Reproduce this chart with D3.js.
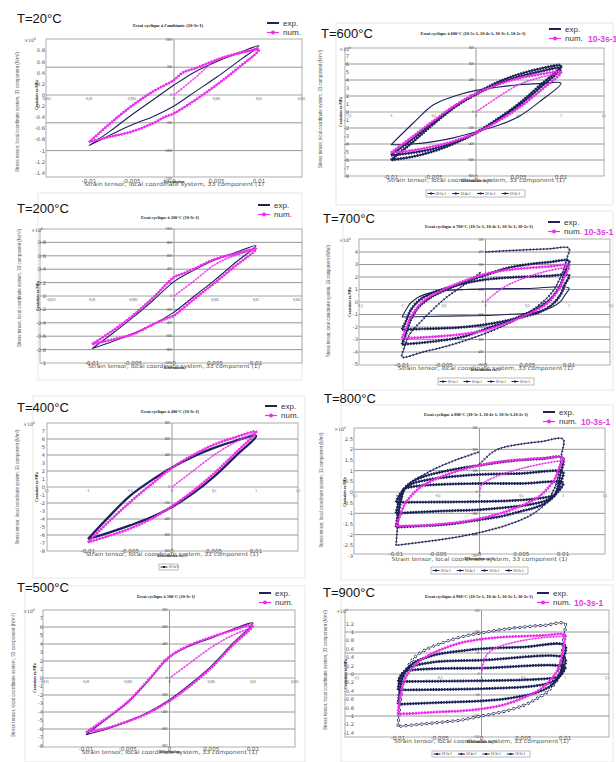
<!DOCTYPE html>
<html><head><meta charset="utf-8">
<script src="https://cdn.jsdelivr.net/npm/d3@7"></script>
<style>body{margin:0;background:#fff}svg{display:block}</style>
</head><body>
<svg id="c" width="616" height="762"></svg>
<script>
// ---------------- DATA (strain [-], stress [MPa]) ----------------
const outerX = [-0.01,-0.005,0,0.005,0.01];
const innerXT = [-0.015,-0.01,-0.005,0,0.005,0.01,0.015];
const outer20 = [0.8,0.6,0.4,0.2,0,-0.2,-0.4,-0.6,-0.8,-1,-1.2,-1.4];
const outer200 = [0.8,0.6,0.4,0.2,0,-0.2,-0.4,-0.6,-0.8,-1];
const outer400 = [7,6,5,4,3,2,1,0,-1,-2,-3,-4,-5,-6,-7,-8];
const outer700 = [4,3,2,1,0,-1,-2,-3,-4,-5];
const outer800 = [2.5,2,1.5,1,0.5,0,-0.5,-1,-1.5,-2,-2.5,-3];
const outer900 = [1.2,1,0.8,0.6,0.4,0.2,0,-0.2,-0.4,-0.6,-0.8,-1,-1.2,-1.4];
const inner20 = [1000,500,0,-500,-1000,-1500];
const inner200 = [1000,800,600,400,200,0,-200,-400,-600,-800,-1000];
const inner400 = [800,600,400,200,0,-200,-400,-600,-800];
const inner700 = [500,400,300,200,100,0,-100,-200,-300,-400,-500];
const inner800 = [300,200,100,0,-100,-200,-300];
const inner900 = [150,100,50,0,-50,-100,-150];
const rates = ["10-5s-1","10-4s-1","10-3s-1","10-2s-1"];

const exp20 = [[-0.01,-910],[-0.0075,-650],[-0.005,-360],[-0.0025,-90],[0,180],[0.0025,420],[0.005,600],[0.0075,750],[0.01,887],[0.0075,600],[0.005,318],[0.0025,60],[0,-198],[-0.0025,-390],[-0.005,-540],[-0.0075,-720],[-0.01,-910]];
const num20 = [[-0.01,-850],[-0.0075,-510],[-0.005,-200],[-0.0025,60],[0,270],[0.001,400],[0.0025,480],[0.005,630],[0.0075,750],[0.01,820],[0.0075,480],[0.005,180],[0.0025,-90],[0,-330],[-0.001,-390],[-0.0025,-510],[-0.005,-660],[-0.0075,-750],[-0.01,-845]];
const ini20 = [[0,0],[0.0025,310],[0.005,630],[0.0075,740],[0.01,815]];

const exp200 = [[-0.01,-785],[-0.0075,-560],[-0.005,-320],[-0.0025,-60],[0,215],[0.0025,390],[0.005,540],[0.0075,650],[0.01,750],[0.0075,500],[0.005,240],[0.0025,0],[0,-240],[-0.0025,-420],[-0.005,-560],[-0.0075,-680],[-0.01,-785]];
const num200 = [[-0.01,-720],[-0.0075,-520],[-0.005,-290],[-0.0025,-20],[0,280],[0.001,330],[0.0025,410],[0.005,550],[0.0075,630],[0.01,700],[0.0075,450],[0.005,200],[0.0025,-40],[0,-290],[-0.001,-340],[-0.0025,-420],[-0.005,-570],[-0.0075,-650],[-0.01,-720]];
const ini200 = [[0,0],[0.0025,230],[0.005,470],[0.0075,610],[0.01,690]];

const exp400 = [[-0.01,-650],[-0.0075,-370],[-0.005,-110],[-0.0025,80],[0,245],[0.0025,380],[0.005,490],[0.0075,575],[0.01,640],[0.0075,380],[0.005,130],[0.0025,-80],[0,-250],[-0.0025,-380],[-0.005,-480],[-0.0075,-570],[-0.01,-650]];
const num400 = [[-0.01,-690],[-0.0075,-430],[-0.005,-190],[-0.0025,30],[0,240],[0.0025,400],[0.005,530],[0.0075,620],[0.01,690],[0.0075,420],[0.005,170],[0.0025,-50],[0,-240],[-0.0025,-400],[-0.005,-520],[-0.0075,-610],[-0.01,-690]];
const ini400 = [[0,0],[0.0025,200],[0.005,400],[0.0075,560],[0.01,680]];

const exp500 = [[-0.01,-667],[-0.0075,-480],[-0.005,-290],[-0.0025,-30],[0,247],[0.0025,380],[0.005,470],[0.0075,570],[0.01,647],[0.0075,400],[0.005,140],[0.0025,-70],[0,-255],[-0.0025,-400],[-0.005,-510],[-0.0075,-600],[-0.01,-667]];
const num500 = [[-0.01,-640],[-0.0075,-470],[-0.005,-280],[-0.0025,-20],[0,250],[0.0025,390],[0.005,480],[0.0075,560],[0.01,620],[0.0075,380],[0.005,120],[0.0025,-90],[0,-270],[-0.0025,-410],[-0.005,-510],[-0.0075,-590],[-0.01,-640]];
const ini500 = [[0,0],[0.0025,180],[0.005,360],[0.0075,500],[0.01,600]];

const exp600a = [[-0.01,-600],[-0.0075,-380],[-0.005,-150],[-0.0025,60],[0,230],[0.0025,370],[0.005,470],[0.0075,540],[0.01,580],[0.0075,330],[0.005,100],[0.0025,-90],[0,-260],[-0.0025,-390],[-0.005,-490],[-0.0075,-560],[-0.01,-600]];
const exp600b = [[-0.01,-540],[-0.0075,-340],[-0.005,-130],[-0.0025,70],[0,220],[0.0025,350],[0.005,440],[0.0075,505],[0.01,550],[0.0075,300],[0.005,80],[0.0025,-100],[0,-260],[-0.0025,-380],[-0.005,-460],[-0.0075,-510],[-0.01,-540]];
const exp600c = [[-0.01,-410],[-0.0075,-150],[-0.005,90],[-0.0025,200],[0,270],[0.0025,310],[0.005,340],[0.0075,355],[0.01,360],[0.0075,130],[0.005,-60],[0.0025,-170],[0,-250],[-0.0025,-320],[-0.005,-370],[-0.0075,-400],[-0.01,-410]];
const num600 = [[-0.01,-510],[-0.0075,-310],[-0.005,-110],[-0.0025,80],[0,230],[0.0025,340],[0.005,420],[0.0075,470],[0.01,500],[0.0075,260],[0.005,50],[0.0025,-120],[0,-260],[-0.0025,-360],[-0.005,-430],[-0.0075,-480],[-0.01,-510]];
const ini600 = [[0,0],[0.0025,180],[0.005,340],[0.0075,430],[0.01,490]];

const exp700a = [[0,400],[0.0025,410],[0.005,418],[0.0075,425],[0.01,430],[0.0098,360],[0.0095,290],[0.009,200],[0.008,80],[0.0065,-20],[0.005,-90],[0.0025,-180],[0,-250],[-0.0025,-310],[-0.005,-360],[-0.0075,-400],[-0.01,-440],[-0.0098,-380],[-0.0095,-320],[-0.009,-250],[-0.0075,-140],[-0.005,20],[-0.0025,140],[-0.0005,240]];
const exp700b = [[-0.01,-340],[-0.0095,-250],[-0.009,-150],[-0.008,-40],[-0.0065,40],[-0.005,90],[-0.0025,160],[0,215],[0.0025,270],[0.005,300],[0.0075,318],[0.01,328],[0.0095,240],[0.009,140],[0.008,40],[0.0065,-40],[0.005,-90],[0.0025,-160],[0,-215],[-0.0025,-275],[-0.005,-305],[-0.0075,-325],[-0.01,-340]];
const exp700c = [[-0.01,-220],[-0.0095,-150],[-0.009,-70],[-0.008,10],[-0.0065,70],[-0.005,105],[-0.0025,150],[0,180],[0.0025,195],[0.005,203],[0.0075,208],[0.01,212],[0.0095,140],[0.009,60],[0.008,-20],[0.0065,-80],[0.005,-110],[0.0025,-150],[0,-180],[-0.0025,-200],[-0.005,-210],[-0.0075,-215],[-0.01,-220]];
const exp700d = [[-0.01,-120],[-0.0095,-60],[-0.009,-10],[-0.008,40],[-0.0065,75],[-0.005,90],[-0.0025,100],[0,105],[0.005,108],[0.01,112],[0.0095,55],[0.009,5],[0.008,-40],[0.0065,-75],[0.005,-90],[0.0025,-100],[0,-108],[-0.005,-113],[-0.01,-120]];
const num700 = [[-0.01,-290],[-0.0095,-210],[-0.009,-130],[-0.008,-30],[-0.007,30],[-0.005,100],[-0.0025,170],[0,225],[0.0025,255],[0.005,272],[0.0075,283],[0.01,290],[0.0095,210],[0.009,130],[0.008,30],[0.007,-30],[0.005,-100],[0.0025,-170],[0,-225],[-0.0025,-255],[-0.005,-272],[-0.0075,-283],[-0.01,-290]];
const ini700 = [[0,0],[0.001,60],[0.0025,130],[0.005,200],[0.0075,250],[0.01,280]];

const exp800a = [[-0.01,-250],[-0.0098,-160],[-0.0095,-60],[-0.009,10],[-0.008,50],[-0.0065,85],[-0.005,115],[-0.0025,155],[0,188],null,[0,130],[0.0005,150],[0.0015,185],[0.0025,205],[0.005,225],[0.0075,237],[0.01,248],[0.0098,170],[0.0095,90],[0.009,20],[0.008,-50],[0.0065,-100],[0.005,-130],[0.0025,-165],[0,-190],[-0.0025,-210],[-0.005,-225],[-0.0075,-238],[-0.01,-250]];
const exp800b = [[-0.01,-165],[-0.0097,-90],[-0.0093,-20],[-0.009,15],[-0.008,50],[-0.0065,75],[-0.005,90],[-0.0025,110],[0,125],[0.0025,140],[0.005,150],[0.0075,156],[0.01,160],[0.0097,85],[0.0093,15],[0.009,-15],[0.008,-50],[0.0065,-75],[0.005,-90],[0.0025,-115],[0,-130],[-0.0025,-145],[-0.005,-155],[-0.0075,-160],[-0.01,-165]];
const exp800c = [[-0.01,-100],[-0.0097,-50],[-0.0094,-10],[-0.009,15],[-0.008,40],[-0.0065,55],[-0.005,65],[-0.0025,75],[0,82],[0.005,87],[0.01,92],[0.0097,45],[0.0094,5],[0.009,-15],[0.008,-40],[0.0065,-55],[0.005,-65],[0.0025,-75],[0,-83],[-0.005,-90],[-0.01,-100]];
const exp800d = [[-0.01,-48],[-0.0096,-15],[-0.0092,5],[-0.009,15],[-0.008,25],[-0.005,35],[0,40],[0.005,40],[0.01,42],[0.0096,10],[0.0092,-5],[0.009,-15],[0.008,-25],[0.005,-38],[0,-45],[-0.005,-47],[-0.01,-48]];
const num800 = [[-0.01,-160],[-0.0095,-110],[-0.009,-60],[-0.008,-10],[-0.007,25],[-0.005,65],[-0.0025,100],[0,125],[0.0025,142],[0.005,152],[0.0075,158],[0.01,160],[0.0095,110],[0.009,60],[0.008,10],[0.007,-25],[0.005,-65],[0.0025,-100],[0,-125],[-0.0025,-142],[-0.005,-152],[-0.0075,-158],[-0.01,-160]];
const ini800 = [[0,0],[0.0003,35],[0.001,55],[0.0025,80],[0.005,110],[0.0075,132],[0.01,148]];

const exp900a = [[-0.01,-125],[-0.0099,-100],[-0.0097,-60],[-0.0094,-20],[-0.009,10],[-0.008,40],[-0.0065,60],[-0.005,72],[-0.0025,88],[0,98],[0.0025,106],[0.005,112],[0.0075,116],[0.01,120],[0.0099,95],[0.0097,55],[0.0094,15],[0.009,-15],[0.008,-40],[0.0065,-60],[0.005,-75],[0.0025,-90],[0,-100],[-0.0025,-110],[-0.005,-115],[-0.0075,-120],[-0.01,-125]];
const exp900b = [[-0.01,-72],[-0.0098,-40],[-0.0095,-10],[-0.009,10],[-0.008,28],[-0.0065,40],[-0.005,48],[-0.0025,55],[0,60],[0.005,64],[0.01,68],[0.0098,35],[0.0095,5],[0.009,-15],[0.008,-32],[0.0065,-45],[0.005,-52],[0.0025,-60],[0,-64],[-0.005,-68],[-0.01,-72]];
const exp900c = [[-0.01,-38],[-0.0098,-15],[-0.0095,0],[-0.009,10],[-0.008,20],[-0.0065,26],[-0.005,30],[0,33],[0.01,37],[0.0098,12],[0.0095,-2],[0.009,-12],[0.008,-22],[0.0065,-28],[0.005,-31],[0,-35],[-0.01,-38]];
const exp900d = [[-0.01,-18],[-0.0097,-5],[-0.0094,3],[-0.009,7],[-0.008,10],[-0.005,13],[0,14],[0.01,16],[0.0097,3],[0.0094,-4],[0.009,-8],[0.008,-11],[0.005,-14],[0,-16],[-0.01,-18]];
const num900 = [[-0.01,-95],[-0.0099,-75],[-0.0097,-50],[-0.0094,-25],[-0.009,-5],[-0.008,20],[-0.007,37],[-0.005,57],[-0.0025,74],[0,83],[0.0025,88],[0.005,90],[0.0075,92],[0.01,93],[0.0099,75],[0.0097,50],[0.0094,25],[0.009,5],[0.008,-20],[0.007,-37],[0.005,-57],[0.0025,-74],[0,-83],[-0.0025,-88],[-0.005,-90],[-0.0075,-93],[-0.01,-95]];
const ini900 = [[0,0],[0.0002,25],[0.0006,45],[0.0015,60],[0.0025,68],[0.005,80],[0.0075,87],[0.01,90]];

// ---------------- LAYOUT ----------------
const NAVY = "#1b2358", MAG = "#ee2cee";
const svg = d3.select("#c");
const boxes = [[38,193,264,187],[33,396,272,182],[25,586,280,176],[336,23,277,182],[343,211,270,179],[341,405,272,175],[341,585,272,177]];
boxes.forEach(b => svg.append("rect").attr("x",b[0]).attr("y",b[1]).attr("width",b[2]).attr("height",b[3])
  .attr("fill","none").attr("stroke","#e2e2e2").attr("stroke-width",0.8));

const panels = [
 {title:"T=20°C",tx:17,ty:23,sub:"Essai cyclique à l'ambiante (10-3s-1)",sx:168,sy:27,subLen:70,lx:267,ly:23,
  frame:[46,39,302,177],xm:89,xp:259,y0:95,yRef:500,yRefPx:67.2,outer:outer20,mult:1000,ex:"9",labR:45,mx:36,
  inner:inner20,pct:false,ylx:19,yly:112,ylLen:120,oxy:183,xly:186,xlLen:180,
  exp:[["plain",exp20]],num:num20,ini:ini20},
 {title:"T=200°C",tx:17,ty:213,sub:"Essai cyclique à 200°C (10-3s-1)",sx:170,sy:219,subLen:58,lx:258,ly:205,
  frame:[40,229,302,363],xm:92,xp:256,y0:296,yRef:1000,yRefPx:229,outer:outer200,mult:1000,ex:"9",labR:46,mx:43,
  inner:inner200,pct:false,ylx:21,yly:288,ylLen:118,oxy:365,xly:368,xlLen:172,
  exp:[["plain",exp200]],num:num200,ini:ini200},
 {title:"T=400°C",tx:17,ty:412,sub:"Essai cyclique à 400°C (10-3s-1)",sx:170,sy:413,subLen:58,lx:265,ly:406,
  frame:[47,423,298,551],xm:88,xp:256,y0:487,yRef:800,yRefPx:423,outer:outer400,mult:100,ex:"8",labR:45,mx:35,
  inner:inner400,pct:true,ylx:19,yly:487,ylLen:115,oxy:553,xly:556,xlLen:173,
  bleg:[159,564,19,6,1],
  exp:[["bold",exp400]],num:num400,ini:ini400},
 {title:"T=500°C",tx:17,ty:592,sub:"Essai cyclique à 500°C (10-3s-1)",sx:166,sy:598,subLen:58,lx:259,ly:593,
  frame:[43,610,295,747],xm:86,xp:253,y0:678,yRef:800,yRefPx:610,outer:outer400,mult:100,ex:"8",labR:43,mx:35,
  inner:inner400,pct:false,ylx:15,yly:675,ylLen:124,oxy:751,xly:754,xlLen:176,
  exp:[["plain",exp500]],num:num500,ini:ini500},
 {title:"T=600°C",tx:321,ty:38,sub:"Essai cyclique à 600°C (10-5s-1, 10-4s-1, 10-3s-1, 10-2s-1)",sx:473,sy:35,subLen:105,lx:549,ly:29,rx:588,
  frame:[345,48,604,176],xm:391,xp:561,y0:112,yRef:800,yRefPx:48,outer:outer400,mult:100,ex:"8",labR:349,mx:351,
  inner:inner400,pct:true,ylx:322,yly:109,ylLen:118,oxy:179,xly:182,xlLen:178,
  bleg:[426,190,99,7,4],
  exp:[["plain",exp600c],["mark",exp600b],["mark",exp600a]],num:num600,ini:ini600},
 {title:"T=700°C",tx:323,ty:223,sub:"Essai cyclique à 700°C (10-5s-1, 10-4s-1, 10-3s-1, 10-2s-1)",sx:479,sy:228,subLen:108,lx:548,ly:222,rx:584,
  frame:[359,239,610,365],xm:402,xp:569,y0:302,yRef:400,yRefPx:252,outer:outer700,mult:100,ex:"8",labR:358,mx:351,
  inner:inner700,pct:true,ylx:330,yly:301,ylLen:112,oxy:367,xly:370,xlLen:175,
  bleg:[438,378,96,7,4],
  exp:[["markthin",exp700a],["mark",exp700b],["mark",exp700c],["plain",exp700d]],num:num700,ini:ini700},
 {title:"T=800°C",tx:324,ty:403,sub:"Essai cyclique à 800°C (10-5s-1, 10-4s-1, 10-3s-1,10-2s-1)",sx:476,sy:416,subLen:104,lx:543,ly:412,rx:581,
  frame:[354,428,605,554],xm:396,xp:563,y0:492,yRef:300,yRefPx:428,outer:outer800,mult:100,ex:"8",labR:353,mx:346,
  inner:inner800,pct:true,ylx:323,yly:490,ylLen:115,oxy:556,xly:561,xlLen:176,
  bleg:[431,567,97,7,4],
  exp:[["markthin",exp800a],["mark",exp800b],["mark",exp800c],["mark",exp800d]],num:num800,ini:ini800},
 {title:"T=900°C",tx:323,ty:597,sub:"Essai cyclique à 900°C (10-5s-1, 10-4s-1, 10-3s-1, 10-2s-1)",sx:479,sy:598,subLen:108,lx:537,ly:593,rx:574,
  frame:[345,610,609,737],xm:398,xp:565,y0:674,yRef:100,yRefPx:632,outer:outer900,mult:100,ex:"8",labR:354,mx:348,
  inner:inner900,pct:true,ylx:327,yly:670,ylLen:120,oxy:740,xly:743,xlLen:175,
  bleg:[432,751,98,6,4],
  exp:[["circ",exp900a],["mark",exp900b],["mark",exp900c],["mark",exp900d]],num:num900,ini:ini900}
];

const SANS = "Liberation Sans, Arial, sans-serif";
const SERIF = "Liberation Serif, Times New Roman, serif";
const TICK = "DejaVu Sans, sans-serif";

function drawPanel(p, idx){
  const g = svg.append("g");
  const [fl,ft,fr,fb] = p.frame;
  const x = d3.scaleLinear().domain([-0.01,0.01]).range([p.xm,p.xp]);
  const y = d3.scaleLinear().domain([0,p.yRef]).range([p.y0,p.yRefPx]);
  const x0 = x(0), y0 = y(0);

  g.append("rect").attr("x",fl).attr("y",ft).attr("width",fr-fl).attr("height",fb-ft)
    .attr("fill","#fff").attr("stroke","#9a9a9a").attr("stroke-width",0.8);
  p.inner.slice(1,-1).filter(v=>v!==0).forEach(v=>{
    g.append("line").attr("x1",fl).attr("x2",fr).attr("y1",y(v)).attr("y2",y(v))
      .attr("stroke","#8c8c8c").attr("stroke-width",0.9);
  });
  g.append("line").attr("x1",x0).attr("x2",x0).attr("y1",ft).attr("y2",fb).attr("stroke","#9a9a9a").attr("stroke-width",1);
  g.append("line").attr("x1",fl).attr("x2",fr).attr("y1",y0).attr("y2",y0).attr("stroke","#9a9a9a").attr("stroke-width",0.9);

  // inner (Excel) tick labels
  p.inner.forEach(v=>{
    g.append("text").attr("x",x0-2).attr("y",y(v)+1.2).attr("text-anchor","end")
      .attr("font-family",SERIF).attr("font-size",3.4).attr("fill","#333").text(v);
  });
  innerXT.forEach(v=>{
    const lab = p.pct ? String(Math.round(v*1000)/10).replace(".",",") : String(+v.toFixed(3)).replace(".",",");
    g.append("text").attr("x",x(v)).attr("y",y0+5).attr("text-anchor","middle")
      .attr("font-family",SERIF).attr("font-size",3.4).attr("fill","#333").text(lab);
  });
  g.append("text").attr("transform",`translate(${p.labR-7},${y0}) rotate(-90)`).attr("text-anchor","middle")
    .attr("font-family",SERIF).attr("font-weight","bold").attr("font-size",3.6).attr("fill","#222").text("Contrainte en MPa");
  g.append("text").attr("x",x0).attr("y",fb+6).attr("text-anchor","middle")
    .attr("font-family",SERIF).attr("font-weight","bold").attr("font-size",3.8).attr("fill","#222")
    .text(p.pct ? "Déformation en %" : "Déformation");

  // series
  const cid = "clip"+idx;
  svg.append("clipPath").attr("id",cid).append("rect").attr("x",fl).attr("y",ft-2).attr("width",fr-fl+2).attr("height",fb-ft+4);
  const gs = g.append("g").attr("clip-path",`url(#${cid})`);
  const line = d3.line().defined(d=>d!==null).x(d=>x(d[0])).y(d=>y(d[1])).curve(d3.curveCatmullRom.alpha(0.5));
  const path = (d,col,w,dash) => gs.append("path").attr("d",line(d)).attr("fill","none").attr("stroke",col)
      .attr("stroke-width",w).attr("stroke-linejoin","round").attr("stroke-dasharray",dash||null);
  p.exp.forEach(([k,d])=>{
    if(k==="plain") path(d,NAVY,1.1);
    else if(k==="bold") path(d,NAVY,2.3);
    else if(k==="mark"){ path(d,NAVY,1.5); path(d,NAVY,2.9,"1.4 1.4"); }
    else if(k==="markthin"){ path(d,NAVY,0.9); path(d,NAVY,2.1,"1 2.4"); }
    else if(k==="circ"){ path(d,NAVY,0.9); path(d,NAVY,3.0,"2.2 3"); path(d,"#fff",1.3,"2.2 3"); }
  });
  path(p.ini,MAG,0.8); path(p.ini,MAG,1.9,"1 2");
  path(p.num,MAG,1.3); path(p.num,MAG,2.8,"1.6 1.4");

  // outer (MATLAB) labels
  p.outer.forEach(v=>{
    g.append("text").attr("x",p.labR).attr("y",y(v*p.mult)+1.9).attr("text-anchor","end")
      .attr("font-family",TICK).attr("font-size",5.2).attr("fill","#555").text(v);
  });
  const mt = g.append("text").attr("x",p.mx).attr("y",ft+3).attr("text-anchor","end")
    .attr("font-family",TICK).attr("font-size",4.6).attr("fill","#555");
  mt.append("tspan").text("×10");
  mt.append("tspan").attr("dy",-2).attr("font-size",3.4).text(p.ex);
  outerX.forEach(v=>{
    g.append("text").attr("x",x(v)).attr("y",p.oxy).attr("text-anchor","middle")
      .attr("font-family",TICK).attr("font-size",5.6).attr("fill","#555").text(String(v));
  });
  g.append("text").attr("x",x0).attr("y",p.xly).attr("text-anchor","middle")
    .attr("font-family",TICK).attr("font-size",5.6).attr("fill","#555")
    .attr("textLength",p.xlLen).attr("lengthAdjust","spacingAndGlyphs")
    .text("Strain tensor, local coordinate system, 33 component (1)");
  const yl = g.append("text").attr("transform",`translate(${p.ylx},${p.yly}) rotate(-90)`).attr("text-anchor","middle")
    .attr("font-family",SANS).attr("font-size",5.2).attr("fill","#555")
    .attr("textLength",p.ylLen).attr("lengthAdjust","spacingAndGlyphs");
  yl.append("tspan").text("Stress tensor, local coordinate system, 33 component (N/m");
  yl.append("tspan").attr("dy",-1.5).attr("font-size",3.5).text("2");
  yl.append("tspan").attr("dy",1.5).text(")");

  // titles
  g.append("text").attr("x",p.tx).attr("y",p.ty).attr("font-family",SANS).attr("font-size",13).attr("fill","#111").text(p.title);
  g.append("text").attr("x",p.sx).attr("y",p.sy).attr("text-anchor","middle").attr("font-family",SERIF)
    .attr("font-weight","bold").attr("font-size",3.8).attr("fill","#222")
    .attr("textLength",p.subLen).attr("lengthAdjust","spacingAndGlyphs").text(p.sub);

  // legend
  g.append("line").attr("x1",p.lx).attr("x2",p.lx+12).attr("y1",p.ly).attr("y2",p.ly).attr("stroke",NAVY).attr("stroke-width",2);
  g.append("text").attr("x",p.lx+16).attr("y",p.ly+2.8).attr("font-family",SANS).attr("font-size",8).attr("fill","#333").text("exp.");
  const ly2 = p.ly+9.5;
  g.append("line").attr("x1",p.lx).attr("x2",p.lx+12).attr("y1",ly2).attr("y2",ly2).attr("stroke",MAG).attr("stroke-width",1.2);
  g.append("circle").attr("cx",p.lx+6).attr("cy",ly2).attr("r",2).attr("fill",MAG);
  g.append("text").attr("x",p.lx+16).attr("y",ly2+2.8).attr("font-family",SANS).attr("font-size",8).attr("fill","#333").text("num.");
  if(p.rx) g.append("text").attr("x",p.rx).attr("y",ly2+3.2).attr("font-family",SANS).attr("font-weight","bold")
    .attr("font-size",8.5).attr("fill","#e23ce2").text("10-3s-1");

  // bottom legend box
  if(p.bleg){
    const [bx,by,bw,bh,n] = p.bleg;
    g.append("rect").attr("x",bx).attr("y",by).attr("width",bw).attr("height",bh).attr("fill","#fff").attr("stroke","#777").attr("stroke-width",0.5);
    const items = n===1 ? ["10-3s-1"] : rates;
    const step = bw/items.length;
    items.forEach((t,i)=>{
      const ix = bx+1.5+i*step, iy = by+bh/2;
      g.append("line").attr("x1",ix).attr("x2",ix+7).attr("y1",iy).attr("y2",iy).attr("stroke",NAVY).attr("stroke-width",1);
      g.append("rect").attr("x",ix+2.5).attr("y",iy-1).attr("width",2).attr("height",2).attr("fill",NAVY);
      g.append("text").attr("x",ix+8).attr("y",iy+1.2).attr("font-family",SERIF).attr("font-size",3.4).attr("fill","#222").text(t);
    });
  }
}
panels.forEach(drawPanel);
</script>
</body></html>
